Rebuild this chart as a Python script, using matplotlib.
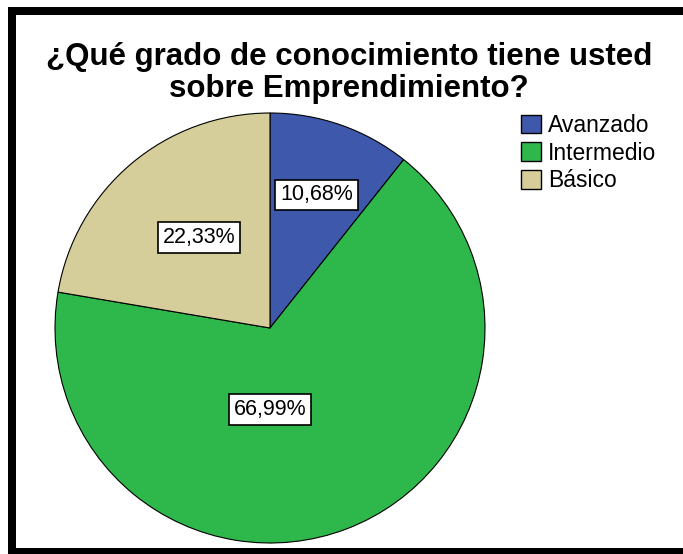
import matplotlib
matplotlib.use('Agg')
import matplotlib.pyplot as plt
from matplotlib.patches import Patch, Rectangle

categories = ['Avanzado', 'Intermedio', 'Básico']
percentages = [10.68, 66.99, 22.33]
colors = ['#3E58AB', '#2EB84B', '#D5CE9B']
title_lines = ['¿Qué grado de conocimiento tiene usted', 'sobre Emprendimiento?']

# label centres in pie units (SPSS does not put them on the mid angle)
label_pos = [(0.216, 0.619), (0.0, -0.38), (-0.33, 0.42)]

W, H = 683, 554
fig = plt.figure(figsize=(W / 100, H / 100), dpi=100)
fig.patch.set_facecolor('white')

# pie centre (270, 328) px, radius 215 px
cx, cy, r = 270, 328, 215
ax = fig.add_axes([(cx - r) / W, (H - cy - r) / H, 2 * r / W, 2 * r / H])
wedges, _ = ax.pie(percentages, colors=colors, startangle=90, counterclock=False,
                   radius=1, wedgeprops=dict(edgecolor='black', linewidth=0.8))
ax.set_xlim(-1, 1)
ax.set_ylim(-1, 1)
ax.set_aspect('equal')
ax.axis('off')

for p, (x, y) in zip(percentages, label_pos):
    ax.text(x, y, f'{p:.2f}%'.replace('.', ','), ha='center', va='center',
            fontsize=15.5, family='Liberation Sans',
            bbox=dict(boxstyle='square,pad=0.22', facecolor='white',
                      edgecolor='black', linewidth=1.2))

# title, one baseline per line
for line, base in zip(title_lines, [65, 97]):
    fig.text(349 / W, 1 - base / H, line, ha='center', va='baseline',
             fontsize=22.5, fontweight='bold', family='Liberation Sans')

handles = [Patch(facecolor=c, edgecolor='black', linewidth=1.0) for c in colors]
fig.legend(handles, categories, loc='upper left',
           bbox_to_anchor=(521 / W, 1 - 114 / H), frameon=False,
           prop=dict(family='Liberation Sans', size=16.5),
           handlelength=0.88, handleheight=0.88, handletextpad=0.3,
           labelspacing=0.2, borderpad=0, borderaxespad=0)

# black frame (left, top, bottom bands; right side is cut off)
for (x0, y0, w, h) in [(8, 7, 8, 547), (8, 7, 675, 8), (8, 548, 675, 6)]:
    fig.patches.append(Rectangle((x0 / W, 1 - (y0 + h) / H), w / W, h / H,
                                 transform=fig.transFigure, facecolor='black',
                                 edgecolor='none', zorder=10))

fig.savefig('out.png', dpi=100)
